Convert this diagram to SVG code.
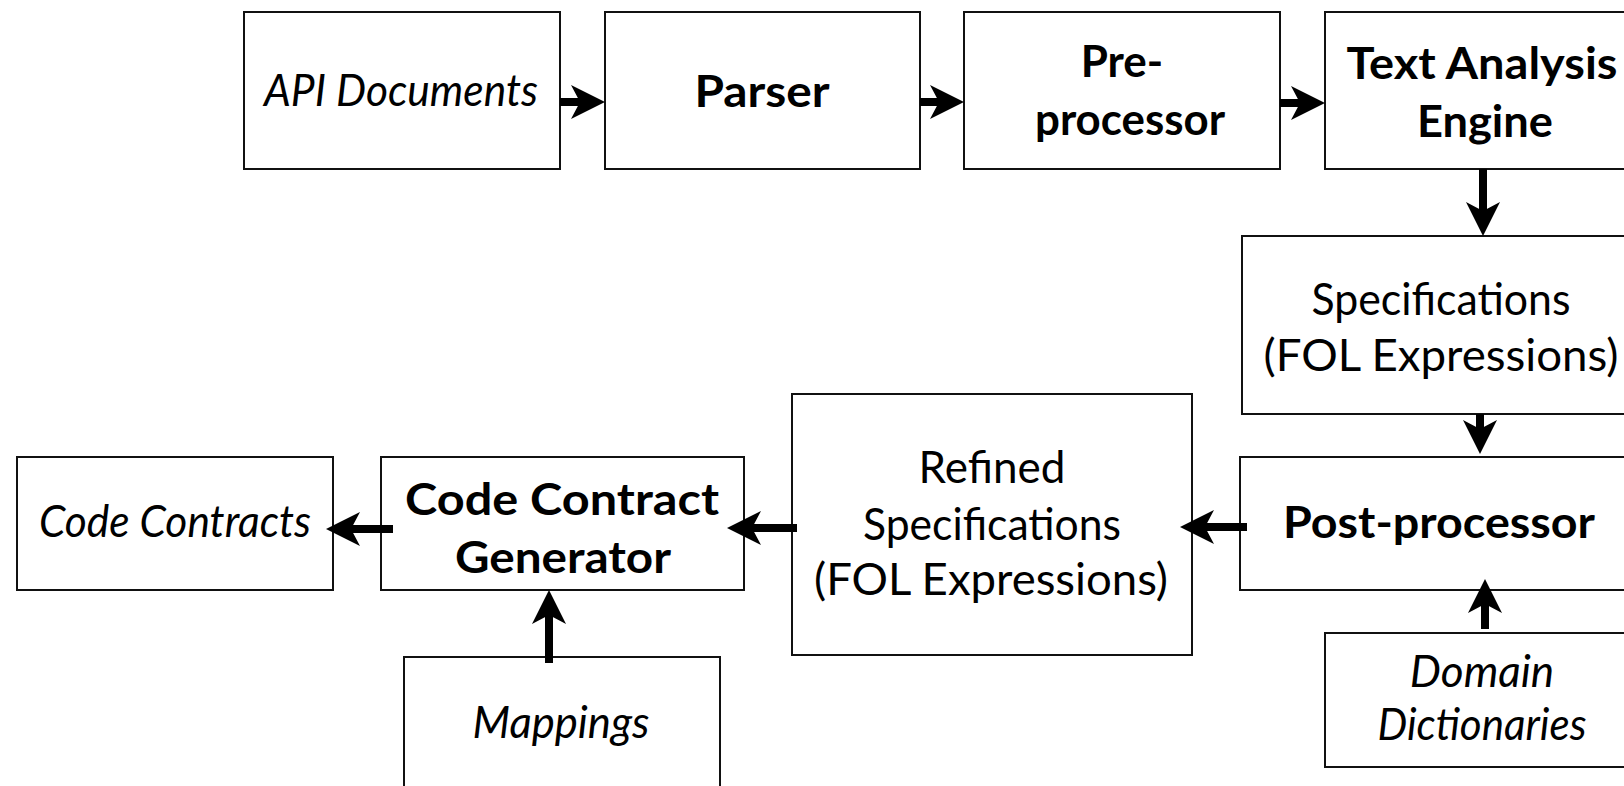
<svg xmlns="http://www.w3.org/2000/svg" width="1624" height="786" viewBox="0 0 1624 786">
  <style>
    .box { fill: #ffffff; stroke: #111111; stroke-width: 2; }
    .t { font-family: Lato, "Liberation Sans", sans-serif; font-size: 44px; fill: #000000; text-anchor: middle; }
    .b { font-weight: bold; }
    .i { font-style: italic; }
    .edge { stroke: #000000; stroke-width: 8; fill: none; marker-end: url(#head); }
  </style>
  <defs>
    <!-- notched arrowhead; the line ends at the notch, the tip sits 24px further on -->
    <marker id="head" markerUnits="userSpaceOnUse" viewBox="-10 -18 36 36" markerWidth="36" markerHeight="36" refX="0" refY="0" orient="auto">
      <path d="M25,0 L-9,-17 L0,0 L-9,17 Z" fill="#000000"/>
    </marker>
  </defs>
  <rect width="1624" height="786" fill="#ffffff"/>

  <g id="api-documents">
    <rect class="box" x="244" y="12" width="316" height="157"/>
    <text class="t i" x="401" y="106" textLength="274" lengthAdjust="spacingAndGlyphs">API Documents</text>
  </g>
  <g id="parser">
    <rect class="box" x="605" y="12" width="315" height="157"/>
    <text class="t b" x="762" y="107" textLength="135" lengthAdjust="spacingAndGlyphs">Parser</text>
  </g>
  <g id="pre-processor">
    <rect class="box" x="964" y="12" width="316" height="157"/>
    <text class="t b" x="1122" y="77">Pre-</text>
    <text class="t b" x="1130" y="135" textLength="190" lengthAdjust="spacingAndGlyphs">processor</text>
  </g>
  <g id="text-analysis-engine">
    <rect class="box" x="1325" y="12" width="315" height="157"/>
    <text class="t b" x="1482" y="79" textLength="271" lengthAdjust="spacingAndGlyphs">Text Analysis</text>
    <text class="t b" x="1485" y="137" textLength="136" lengthAdjust="spacingAndGlyphs">Engine</text>
  </g>
  <g id="specifications">
    <rect class="box" x="1242" y="236" width="398" height="178"/>
    <text class="t" x="1441" y="315" textLength="259" lengthAdjust="spacingAndGlyphs">Specifications</text>
    <text class="t" x="1441" y="371" textLength="355" lengthAdjust="spacingAndGlyphs">(FOL Expressions)</text>
  </g>
  <g id="post-processor">
    <rect class="box" x="1240" y="457" width="400" height="133"/>
    <text class="t b" x="1439" y="538" textLength="312" lengthAdjust="spacingAndGlyphs">Post-processor</text>
  </g>
  <g id="domain-dictionaries">
    <rect class="box" x="1325" y="633" width="315" height="134"/>
    <text class="t i" x="1482" y="687">Domain</text>
    <text class="t i" x="1482" y="740" textLength="209" lengthAdjust="spacingAndGlyphs">Dictionaries</text>
  </g>
  <g id="refined-specifications">
    <rect class="box" x="792" y="394" width="400" height="261"/>
    <text class="t" x="992" y="483">Refined</text>
    <text class="t" x="992" y="540" textLength="258" lengthAdjust="spacingAndGlyphs">Specifications</text>
    <text class="t" x="991" y="595" textLength="354" lengthAdjust="spacingAndGlyphs">(FOL Expressions)</text>
  </g>
  <g id="code-contract-generator">
    <rect class="box" x="381" y="457" width="363" height="133"/>
    <text class="t b" x="562" y="515" textLength="314" lengthAdjust="spacingAndGlyphs">Code Contract</text>
    <text class="t b" x="563" y="573" textLength="216" lengthAdjust="spacingAndGlyphs">Generator</text>
  </g>
  <g id="code-contracts">
    <rect class="box" x="17" y="457" width="316" height="133"/>
    <text class="t i" x="175" y="537" textLength="272" lengthAdjust="spacingAndGlyphs">Code Contracts</text>
  </g>
  <g id="mappings">
    <rect class="box" x="404" y="657" width="316" height="140"/>
    <text class="t i" x="561" y="738" textLength="177" lengthAdjust="spacingAndGlyphs">Mappings</text>
  </g>

  <g id="connectors">
    <path class="edge" d="M560,102 H580"/>
    <path class="edge" d="M920,102 H939"/>
    <path class="edge" d="M1280,103 H1300"/>
    <path class="edge" d="M1483,169 V211"/>
    <path class="edge" d="M1480,414 V429"/>
    <path class="edge" d="M1247,527 H1205"/>
    <path class="edge" d="M1485,629 V604"/>
    <path class="edge" d="M797,528 H752"/>
    <path class="edge" d="M393,529 H351"/>
    <path class="edge" d="M549,663 V615"/>
  </g>
</svg>
